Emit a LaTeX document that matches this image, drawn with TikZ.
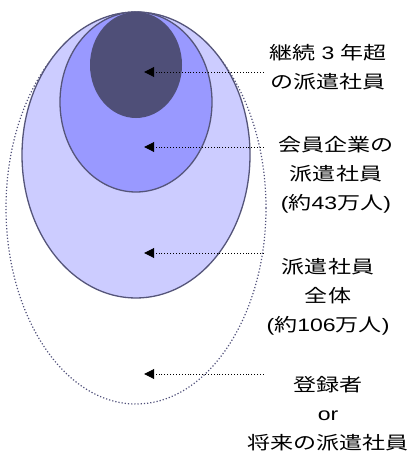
\documentclass[tikz,border=0pt]{standalone}
\usepackage{fontspec}
\setmainfont{Noto Sans CJK JP}
\newfontfamily\latn{Liberation Sans}
\usetikzlibrary{arrows.meta}
\definecolor{edge}{HTML}{55557A}
\definecolor{lightfill}{HTML}{CCCCFF}
\definecolor{midfill}{HTML}{9999FF}
\definecolor{darkfill}{HTML}{4F4F78}
\definecolor{dotedge}{HTML}{50507A}
\tikzset{
  blob/.style={draw=edge, line width=1.3pt},
  pointer/.style={draw=black, dotted, line width=0.9pt, -{Triangle[length=10pt,width=10pt]}},
  label/.style={align=center, font=\fontsize{18pt}{29pt}\selectfont, xscale=1.28, inner sep=0pt},
  anchorpt/.style={inner sep=0pt, minimum size=0pt}
}
\begin{document}
\begin{tikzpicture}[x=1pt,y=-1pt]
\useasboundingbox (0,0) rectangle (418,452);
\draw[dotedge, dotted, line width=1.2pt] (136,208) ellipse [x radius=130pt, y radius=196pt];
\fill[lightfill] (136,155) ellipse [x radius=114pt, y radius=143pt];
\draw[blob] (136,155) ellipse [x radius=114pt, y radius=143pt];
\fill[midfill] (136,102) ellipse [x radius=76pt, y radius=90pt];
\draw[blob] (136,102) ellipse [x radius=76pt, y radius=90pt];
\fill[darkfill] (136,65) ellipse [x radius=46pt, y radius=53pt];

\node[label] (t1) at (328,67) {継続{\latn\ 3\ }年超\\の派遣社員};
\node[label] (t2) at (336,175) {会員企業の\\派遣社員\\{\latn(}約{\latn 43}万人{\latn)}};
\node[label] (t3) at (328,297) {派遣社員\\全体\\{\latn(}約{\latn 106}万人{\latn)}};
\node[label] (t4) at (328,414) {登録者\\{\latn or}\\将来の派遣社員};

\node[anchorpt] (s1) at (264,72) {};
\node[anchorpt] (e1) at (144,72) {};
\node[anchorpt] (s2) at (264,147) {};
\node[anchorpt] (e2) at (144,147) {};
\node[anchorpt] (s3) at (264,253) {};
\node[anchorpt] (e3) at (144,253) {};
\node[anchorpt] (s4) at (264,374) {};
\node[anchorpt] (e4) at (144,374) {};
\draw[pointer] (s1) -- (e1);
\draw[pointer] (s2) -- (e2);
\draw[pointer] (s3) -- (e3);
\draw[pointer] (s4) -- (e4);
\end{tikzpicture}
\end{document}
